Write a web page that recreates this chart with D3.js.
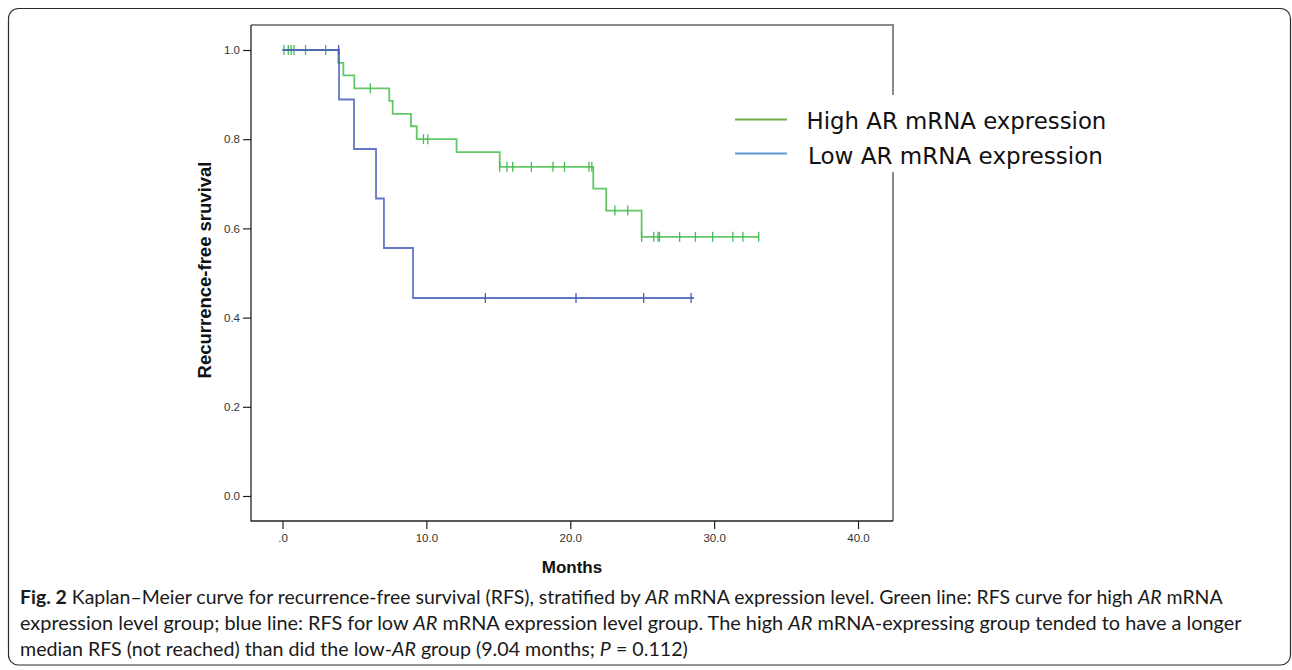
<!DOCTYPE html>
<html>
<head>
<meta charset="utf-8">
<script src="https://cdn.jsdelivr.net/npm/d3@7"></script>
<style>
  html, body { margin: 0; padding: 0; background: #fff; }
  svg { display: block; }
</style>
</head>
<body>
<svg id="chart" width="1292" height="670"></svg>
<script>
// ---------------- DATA ----------------
// High AR group: step times (months) and survival after each step
const highTimes = [0, 3.88, 4.23, 4.99, 7.42, 7.66, 8.93, 9.33, 12.1, 15.1, 21.6, 22.5, 24.96];
const highSurv  = [1.0, 0.971, 0.943, 0.914, 0.886, 0.857, 0.829, 0.800, 0.771, 0.738, 0.689, 0.640, 0.581];
const highEnd   = 33.1;
const highCensored = [0.1, 0.4, 0.6, 0.8, 1.6, 3.0, 6.1, 9.8, 10.1, 15.1, 15.6, 16.0, 17.3, 18.8, 19.6,
                      21.3, 21.5, 23.1, 24.0, 24.96, 25.8, 26.1, 26.2, 27.6, 28.7, 29.9, 31.3, 32.0, 33.1];

// Low AR group
const lowTimes = [0, 3.93, 4.97, 6.5, 7.05, 9.07];
const lowSurv  = [1.0, 0.889, 0.778, 0.667, 0.556, 0.444];
const lowEnd   = 28.6;
const lowCensored = [3.9, 14.1, 20.4, 25.1, 28.4];

const xTicks = [0, 10, 20, 30, 40];
const xTickLabels = [".0", "10.0", "20.0", "30.0", "40.0"];
const yTicks = [0, 0.2, 0.4, 0.6, 0.8, 1.0];
const yTickLabels = ["0.0", "0.2", "0.4", "0.6", "0.8", "1.0"];

const seriesNames = ["High AR mRNA expression", "Low AR mRNA expression"];
const xTitle = "Months";
const yTitle = "Recurrence-free sruvival";

// ---------------- LAYOUT ----------------
const svg = d3.select("#chart");
const frame = { left: 251, top: 25, right: 893, bottom: 521 };
const x = d3.scaleLinear().domain([0, 40]).range([282.5, 858]);
const y = d3.scaleLinear().domain([0, 1]).range([496, 50]);

const colHigh = "#45bd4f";
const colLow = "#4a5dbd";

// outer rounded border
svg.append("rect")
  .attr("x", 8.5).attr("y", 8.5).attr("width", 1282).attr("height", 656.5)
  .attr("rx", 10).attr("ry", 10)
  .attr("fill", "none").attr("stroke", "#2b2b2b").attr("stroke-width", 1.2);

// plot frame: top & right grey, left & bottom dark
svg.append("line").attr("x1", frame.left).attr("x2", frame.right).attr("y1", frame.top).attr("y2", frame.top)
  .attr("stroke", "#8a8a8a").attr("stroke-width", 2);
svg.append("line").attr("x1", frame.right).attr("x2", frame.right).attr("y1", frame.top - 1).attr("y2", frame.bottom)
  .attr("stroke", "#8a8a8a").attr("stroke-width", 2);

// axes
const yAxis = svg.append("g").attr("transform", `translate(${frame.left},0)`)
  .call(d3.axisLeft(y).tickValues(yTicks).tickSize(8).tickPadding(3)
    .tickFormat((d, i) => yTickLabels[i]));
const xAxis = svg.append("g").attr("transform", `translate(0,${frame.bottom})`)
  .call(d3.axisBottom(x).tickValues(xTicks).tickSize(8).tickPadding(5)
    .tickFormat((d, i) => xTickLabels[i]));
[yAxis, xAxis].forEach(g => {
  g.select(".domain").remove();
  g.selectAll(".tick line").attr("stroke", "#222").attr("stroke-width", 1.2);
  g.selectAll(".tick text").attr("fill", "#333")
    .style("font-family", "Liberation Sans, Arial, sans-serif").style("font-size", "11.5px");
});
svg.append("line").attr("x1", frame.left).attr("x2", frame.left).attr("y1", frame.top).attr("y2", frame.bottom + 0.6)
  .attr("stroke", "#222").attr("stroke-width", 1.3);
svg.append("line").attr("x1", frame.left).attr("x2", frame.right).attr("y1", frame.bottom).attr("y2", frame.bottom)
  .attr("stroke", "#222").attr("stroke-width", 1.3);

// axis titles
svg.append("text").text(xTitle)
  .attr("x", 572).attr("y", 573).attr("text-anchor", "middle")
  .style("font-family", "Liberation Sans, Arial, sans-serif").style("font-weight", "bold").style("font-size", "17px")
  .attr("fill", "#111");
svg.append("text").text(yTitle)
  .attr("transform", "translate(211,270) rotate(-90)").attr("text-anchor", "middle")
  .style("font-family", "Liberation Sans, Arial, sans-serif").style("font-weight", "bold").style("font-size", "18.5px")
  .attr("fill", "#111");

// ---------------- CURVES ----------------
function stepData(times, surv, end) {
  const pts = times.map((t, i) => [t, surv[i]]);
  pts.push([end, surv[surv.length - 1]]);
  return pts;
}
function survAt(times, surv, t) {
  let s = surv[0];
  for (let i = 0; i < times.length; i++) if (times[i] <= t) s = surv[i];
  return s;
}
const line = d3.line().x(d => x(d[0])).y(d => y(d[1])).curve(d3.curveStepAfter);

const groups = [
  { times: highTimes, surv: highSurv, end: highEnd, cens: highCensored, color: colHigh },
  { times: lowTimes, surv: lowSurv, end: lowEnd, cens: lowCensored, color: colLow }
];
groups.forEach(g => {
  svg.append("path").datum(stepData(g.times, g.surv, g.end))
    .attr("d", line).attr("fill", "none").attr("stroke", g.color).attr("stroke-width", 1.8)
    .attr("stroke-opacity", 0.85);
  svg.append("g").selectAll("line").data(g.cens).join("line")
    .attr("x1", d => x(d)).attr("x2", d => x(d))
    .attr("y1", d => y(survAt(g.times, g.surv, d)) - 5)
    .attr("y2", d => y(survAt(g.times, g.surv, d)) + 5)
    .attr("stroke", g.color).attr("stroke-width", 1.3);
});

// ---------------- LEGEND ----------------
svg.append("rect").attr("x", 722).attr("y", 95).attr("width", 400).attr("height", 77).attr("fill", "#fff");
const legendColors = ["#70ad47", "#5b9bd5"];
const legendLineY = [119.5, 153.5];
const legendTextY = [129, 164];
const legendTextX = [806.5, 808];
const legendTextW = [300, 295];
seriesNames.forEach((name, i) => {
  svg.append("line").attr("x1", 735).attr("x2", 787).attr("y1", legendLineY[i]).attr("y2", legendLineY[i])
    .attr("stroke", legendColors[i]).attr("stroke-width", 2.2);
  const t = svg.append("text").text(name)
    .attr("x", legendTextX[i]).attr("y", legendTextY[i])
    .style("font-family", "DejaVu Sans, Verdana, sans-serif").style("font-size", "23px").attr("fill", "#111");
  const w = t.node().getComputedTextLength();
  t.style("font-size", (23 * legendTextW[i] / w).toFixed(2) + "px");
});

// ---------------- CAPTION ----------------
const captionLines = [
  [["Fig. 2", "b"], [" Kaplan–Meier curve for recurrence-free survival (RFS), stratified by ", "n"], ["AR", "i"],
   [" mRNA expression level. Green line: RFS curve for high ", "n"], ["AR", "i"], [" mRNA", "n"]],
  [["expression level group; blue line: RFS for low ", "n"], ["AR", "i"],
   [" mRNA expression level group. The high ", "n"], ["AR", "i"],
   [" mRNA-expressing group tended to have a longer", "n"]],
  [["median RFS (not reached) than did the low-", "n"], ["AR", "i"], [" group (9.04 months; ", "n"], ["P", "i"], [" = 0.112)", "n"]]
];
const captionY = [604, 630, 656];
const captionW = [1203, 1222, 668];
captionLines.forEach((parts, i) => {
  const t = svg.append("text").attr("x", 0).attr("y", 0)
    .style("font-family", "Lato, Open Sans, sans-serif").style("font-size", "18.5px").attr("fill", "#1a1a1a");
  parts.forEach(p => {
    const ts = t.append("tspan").text(p[0]);
    if (p[1] === "b") ts.style("font-weight", "bold");
    if (p[1] === "i") ts.style("font-style", "italic");
  });
  const w = t.node().getComputedTextLength();
  const sx = captionW[i] / w;
  t.attr("transform", `translate(20,${captionY[i]}) scale(${sx.toFixed(4)},1)`);
});
</script>
</body>
</html>
